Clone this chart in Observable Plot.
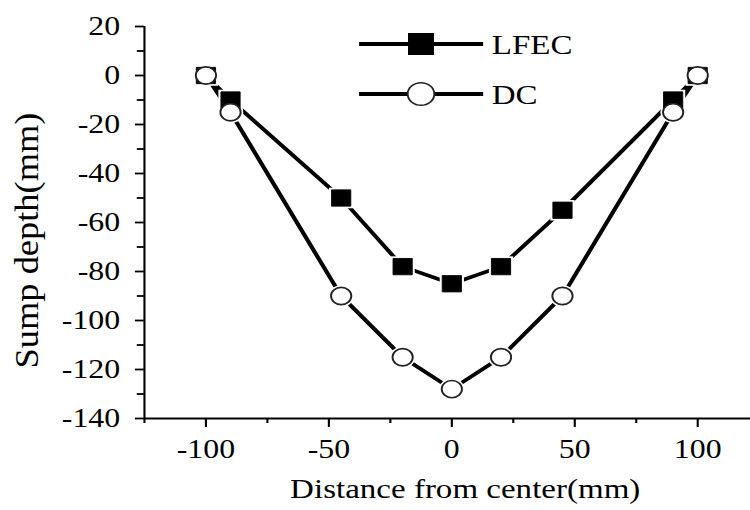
<!DOCTYPE html>
<html>
<head>
<meta charset="utf-8">
<script src="https://cdn.jsdelivr.net/npm/d3@7"></script>
<script src="https://cdn.jsdelivr.net/npm/@observablehq/plot@0.6"></script>
<style>
  html, body { margin: 0; padding: 0; background: #fff; }
  #chart { width: 750px; height: 510px; overflow: hidden; }
</style>
</head>
<body>
<div id="chart"></div>
<script>
// ---- data ----
const distance = [-100, -90, -45, -20, 0, 20, 45, 90, 100];
const lfecDepth = [0, -10, -50, -78, -85, -78, -55, -10, 0];
const dcDepth = [0, -15, -90, -115, -128, -115, -90, -15, 0];
const seriesNames = ["LFEC", "DC"];
const xTicks = [-100, -50, 0, 50, 100];
const xMinorTicks = [-125, -75, -25, 25, 75];
const yTicks = [20, 0, -20, -40, -60, -80, -100, -120, -140];
const yMinorTicks = [10, -10, -30, -50, -70, -90, -110, -130];
const xDomain = [-125, 121.5];
const yDomain = [-140, 20];
const xTitle = "Distance from center(mm)";
const yTitle = "Sump depth(mm)";

const lfecData = distance.map((x, i) => ({x, y: lfecDepth[i]}));
const dcData = distance.map((x, i) => ({x, y: dcDepth[i]}));

const font = "'Liberation Serif', 'Times New Roman', serif";
const fmt = d => (d < 0 ? "-" + Math.abs(d) : String(d));
const W = 636, H = 510; // internal width; stretched horizontally to 750

const chart = Plot.plot({
  width: W, height: H,
  marginLeft: 122, marginRight: 0, marginTop: 26, marginBottom: 92,
  x: {domain: xDomain, tickFormat: fmt},
  y: {domain: yDomain, tickFormat: fmt},
  style: {fontFamily: font, fontSize: "27px", color: "#000", background: "#fff", overflow: "visible"},
  marks: [
    Plot.axisY(yMinorTicks, {tickSize: 6, text: null, label: null, strokeWidth: 1.8}),
    Plot.axisY(yTicks, {tickSize: 7.6, tickPadding: 13, tickFormat: fmt, label: null, strokeWidth: 1.8, fontSize: 27, fontVariant: "normal"}),
    Plot.axisX(xMinorTicks, {tickSize: 5, text: null, label: null, strokeWidth: 1.8}),
    Plot.axisX(xTicks, {tickSize: 9, tickPadding: 11, tickFormat: fmt, label: null, strokeWidth: 1.8, fontSize: 27, fontVariant: "normal"}),
    Plot.ruleX([xDomain[0]], {stroke: "#000", strokeWidth: 1.8}),
    Plot.ruleY([yDomain[0]], {stroke: "#000", strokeWidth: 2}),
    Plot.line(lfecData, {x: "x", y: "y", stroke: "#000", strokeWidth: 3.6}),
    Plot.line(dcData, {x: "x", y: "y", stroke: "#000", strokeWidth: 3.6}),
    // white halos give the small gap between line ends and markers
    Plot.dot(lfecData, {x: "x", y: "y", symbol: "square", r: 11.6, fill: "#fff", stroke: "none"}),
    Plot.dot(dcData, {x: "x", y: "y", symbol: "circle", r: 10.8, fill: "#fff", stroke: "none"}),
    Plot.dot(lfecData, {x: "x", y: "y", symbol: "square", r: 9.2, fill: "#000", stroke: "#000", strokeWidth: 0.8}),
    Plot.dot(dcData, {x: "x", y: "y", symbol: "circle", r: 8.6, fill: "#fff", stroke: "#222", strokeWidth: 1.6}),
    Plot.text([xTitle], {text: d => d, frameAnchor: "bottom", dx: 15, dy: 79, fontSize: 28, fill: "#000"}),
    Plot.text([yTitle], {text: d => d, frameAnchor: "left", rotate: -90, textAnchor: "start", dx: -99, dy: 146, fontSize: 28, fill: "#000"})
  ]
});

const svg = d3.select(chart);
svg.selectAll("text").style("font-variant", "normal");
// stretch y title to match the reference length
svg.selectAll("text").filter(function() { return this.textContent === yTitle; })
  .attr("textLength", 256).attr("lengthAdjust", "spacingAndGlyphs");

// legend
const leg = svg.append("g").attr("font-family", font).attr("text-anchor", "start");
const legRows = [{name: seriesNames[0], y: 44, kind: "square"}, {name: seriesNames[1], y: 94, kind: "circle"}];
legRows.forEach(r => {
  leg.append("line").attr("x1", 304.5).attr("x2", 409.7).attr("y1", r.y).attr("y2", r.y)
    .attr("stroke", "#000").attr("stroke-width", 4);
  if (r.kind === "square") {
    leg.append("rect").attr("x", 357 - 11).attr("y", r.y - 11).attr("width", 22).attr("height", 22).attr("fill", "#000");
  } else {
    leg.append("circle").attr("cx", 357).attr("cy", r.y).attr("r", 11.3).attr("fill", "#fff").attr("stroke", "#222").attr("stroke-width", 1.6);
  }
  leg.append("text").attr("x", 417).attr("y", r.y).attr("dy", "0.36em").attr("font-size", 28).attr("fill", "#000").attr("text-anchor", "start").text(r.name);
});

chart.setAttribute("preserveAspectRatio", "none");
chart.setAttribute("width", 750);
chart.setAttribute("height", 510);
chart.style.width = "750px";
chart.style.height = "510px";
chart.style.maxWidth = "none";
document.getElementById("chart").appendChild(chart);
</script>
</body>
</html>
